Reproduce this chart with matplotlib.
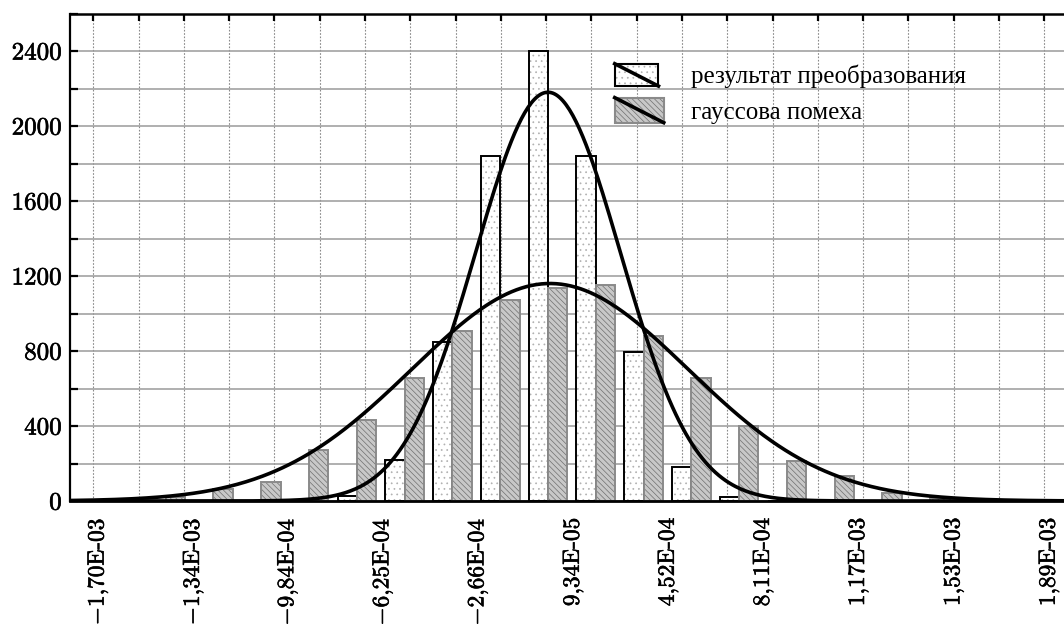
import numpy as np
import matplotlib
matplotlib.use("Agg")
import matplotlib.pyplot as plt
import matplotlib.patheffects as pe
from matplotlib.patches import Rectangle
from matplotlib.lines import Line2D
from matplotlib.ticker import FixedLocator, MultipleLocator

plt.rcParams["mathtext.fontset"] = "cm"
plt.rcParams["hatch.linewidth"] = 0.5

# histogram bins (boundary between the two bars of a pair), units of the x axis
bin_step = 1.804e-4
bin_index = np.arange(-8, 9)
result_counts = [0, 0, 0, 0, 28, 219, 850, 1840, 2400, 1840, 796, 183, 20, 0, 0, 0, 0]
noise_counts = [20, 62, 103, 272, 432, 654, 908, 1072, 1134, 1154, 882, 658, 400, 215, 133, 41, 18]

# fitted normal curves: amplitude, mean, sigma
result_fit = (2180.0, 0.0, 2.74e-4)
noise_fit = (1160.0, 7.5e-6, 5.21e-4)

tick_values = [-1.70e-3, -1.34e-3, -9.84e-4, -6.25e-4, -2.66e-4, 9.34e-5,
               4.52e-4, 8.11e-4, 1.17e-3, 1.53e-3, 1.89e-3]
tick_labels = ["$-$1,70E-03", "$-$1,34E-03", "$-$9,84E-04", "$-$6,25E-04",
               "$-$2,66E-04", "9,34E-05", "4,52E-04", "8,11E-04",
               "1,17E-03", "1,53E-03", "1,89E-03"]
legend_labels = ["результат преобразования", "гауссова помеха"]

XMIN, XMAX = -1.8045e-3, 1.948e-3
GRID_START, GRID_STEP = -1.7165e-3, 1.7097e-4
BAR_W = 7.3e-5
NOISE_FACE, NOISE_HATCH, NOISE_HCOL = "#c8c8c8", "\\\\\\\\\\\\", "#707070"
bold = [pe.withStroke(linewidth=0.45, foreground="black")]


class DiagHandler:
    def __init__(self, face, hatch, hatch_color, edge, grow=1.0):
        self.face, self.hatch, self.hatch_color = face, hatch, hatch_color
        self.edge, self.grow = edge, grow

    def legend_artist(self, legend, orig_handle, fontsize, handlebox):
        x0, y0 = -handlebox.xdescent, -handlebox.ydescent
        w, h = handlebox.width * self.grow, handlebox.height * self.grow
        y0 -= (h - handlebox.height) / 2
        tr = handlebox.get_transform()
        back = Rectangle((x0, y0), w, h, facecolor=self.face, hatch=self.hatch,
                         edgecolor=self.hatch_color, lw=0, transform=tr)
        frame = Rectangle((x0, y0), w, h, facecolor="none", edgecolor=self.edge,
                          lw=1.5, transform=tr)
        diag = Line2D([x0, x0 + w], [y0 + h, y0], color="black", lw=2.6,
                      transform=tr)
        for a in (back, frame, diag):
            handlebox.add_artist(a)
        return frame


fig = plt.figure(figsize=(10.64, 6.29), dpi=100)
ax = fig.add_axes([70 / 1064, 128 / 629, 994 / 1064, 487.5 / 629])

centers = bin_index * bin_step
# white dotted bars (left of each pair), then black outline on top
ax.bar(centers - BAR_W, result_counts, width=BAR_W, align="edge",
       facecolor="white", edgecolor="#b0b0b0", hatch="...", lw=0, zorder=2)
h_res = ax.bar(centers - BAR_W, result_counts, width=BAR_W, align="edge",
               facecolor="none", edgecolor="black", lw=1.4, zorder=2)
# gray hatched bars (right of each pair)
ax.bar(centers, noise_counts, width=BAR_W, align="edge",
       facecolor=NOISE_FACE, edgecolor=NOISE_HCOL, hatch=NOISE_HATCH, lw=0, zorder=2)
h_noise = ax.bar(centers, noise_counts, width=BAR_W, align="edge",
                 facecolor="none", edgecolor="#8a8a8a", lw=1.4, zorder=2)

xs = np.linspace(XMIN, XMAX, 600)
for amp, mu, sig in (result_fit, noise_fit):
    ax.plot(xs, amp * np.exp(-(xs - mu) ** 2 / (2 * sig ** 2)),
            color="black", lw=2.6, zorder=4, solid_capstyle="butt")

ax.set_xlim(XMIN, XMAX)
ax.set_ylim(0, 2600)

ax.xaxis.set_major_locator(FixedLocator(tick_values))
ax.set_xticklabels(tick_labels, rotation=90, family="cmr10", fontsize=16.8)
grid_x = GRID_START + GRID_STEP * np.arange(22)
ax.xaxis.set_minor_locator(FixedLocator(grid_x))
ax.tick_params(axis="x", which="major", length=0, pad=12)
ax.tick_params(axis="x", which="minor", top=True, bottom=False,
               direction="in", length=5, width=1.6)

ax.yaxis.set_major_locator(MultipleLocator(400))
ax.yaxis.set_minor_locator(MultipleLocator(200))
ax.tick_params(axis="y", which="both", direction="in", length=6, width=1.6, pad=6)
for lab in ax.get_yticklabels():
    lab.set_family("cmr10")
    lab.set_fontsize(18)
for lab in ax.get_yticklabels() + ax.get_xticklabels():
    lab.set_path_effects(bold)

ax.set_axisbelow(True)
ax.grid(axis="y", which="both", color="#9a9a9a", lw=1.1)
ax.grid(axis="x", which="minor", color="#8a8a8a", lw=0.8, ls=(0, (1.5, 1.5)))
ax.grid(axis="x", which="major", visible=False)

ax.spines["right"].set_visible(False)
ax.spines["left"].set_linewidth(1.6)
ax.spines["top"].set_linewidth(1.8)
ax.spines["bottom"].set_linewidth(2.0)

leg = ax.legend(
    [h_res, h_noise], legend_labels,
    handler_map={h_res: DiagHandler("white", "...", "#b0b0b0", "black"),
                 h_noise: DiagHandler(NOISE_FACE, NOISE_HATCH, NOISE_HCOL, "#8a8a8a", 1.12)},
    loc="upper left", bbox_to_anchor=(0.548, 0.897), frameon=False,
    prop={"family": "Liberation Serif", "size": 18},
    handlelength=1.75, handleheight=1.0, handletextpad=1.3, labelspacing=0.42,
    borderaxespad=0, borderpad=0,
)

fig.savefig("out.png", dpi=100)
